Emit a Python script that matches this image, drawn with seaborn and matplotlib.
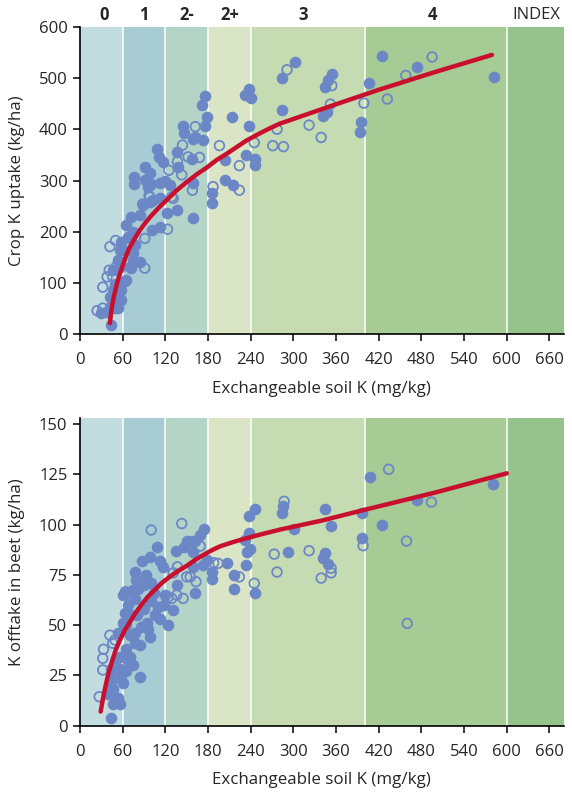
import numpy as np
import pandas as pd
import matplotlib
matplotlib.use("Agg")
import matplotlib.pyplot as plt
import seaborn as sns

# soil K index bands (mg/kg)
band_edges = [0, 60, 120, 180, 240, 400, 600, 680]
band_colors = ["#c3dce0", "#a8ccd3", "#b4d4c7", "#d9e5c5", "#c5dbb1", "#a6cb94", "#96c28b"]
index_labels = ["0", "1", "2-", "2+", "3", "4"]
index_pos = [34, 89, 150, 211, 314, 496]

# crop K uptake (top panel)
top_filled_x = [43, 30, 37, 49, 54, 42, 42, 51, 58, 49, 47, 58, 49, 63, 65, 46, 56, 54, 70, 75,
                84, 72, 56, 58, 68, 75, 64, 72, 84, 89, 98, 112, 101, 136, 159, 185, 77, 61, 70, 75,
                122, 112, 103, 76, 76, 91, 98, 91, 96, 112, 126, 159, 108, 111, 117, 136, 157, 138, 145, 146,
                159, 162, 175, 171, 178, 175, 173, 185, 204, 204, 215, 213, 234, 246, 246, 238, 240, 232, 238, 284,
                284, 302, 354, 349, 345, 342, 347, 395, 394, 406, 425, 474, 582, 100, 120]
top_filled_y = [18, 41, 44, 51, 51, 54, 73, 70, 67, 64, 86, 86, 99, 103, 106, 125, 132, 145, 132, 145,
                142, 129, 164, 181, 190, 200, 213, 229, 233, 252, 259, 210, 203, 242, 226, 256, 174, 164, 187, 158,
                236, 265, 262, 306, 293, 327, 314, 301, 288, 295, 291, 295, 361, 346, 337, 356, 341, 327, 406, 393,
                380, 385, 465, 447, 423, 407, 379, 276, 340, 301, 291, 424, 350, 341, 330, 478, 460, 467, 406, 437,
                499, 532, 507, 496, 482, 426, 434, 414, 395, 491, 543, 522, 502, 293, 300]
top_open_x = [24, 32, 32, 38, 46, 41, 51, 42, 50, 91, 91, 123, 98, 131, 88, 97, 129, 125, 143, 137,
              144, 152, 168, 162, 158, 187, 196, 224, 224, 245, 271, 286, 277, 291, 354, 352, 322, 339, 399, 432,
              458, 495]
top_open_y = [46, 51, 92, 112, 112, 125, 132, 171, 183, 187, 129, 205, 268, 265, 254, 270, 268, 320, 311, 337,
              369, 346, 345, 405, 281, 288, 368, 329, 281, 374, 368, 366, 400, 516, 485, 449, 408, 384, 451, 459,
              505, 541]
top_curve_x = [42, 43.5, 45, 47, 50, 53, 57, 61, 65, 70, 77, 84, 91, 98, 110, 122, 136, 150, 164, 178,
               192, 206, 220, 234, 250, 267, 281, 300, 350, 420, 500, 579]
top_curve_y = [22, 40, 55, 70, 88, 104, 122, 138, 154, 170, 187, 203, 216, 228, 246, 262, 281, 297, 312, 325,
               340, 352, 365, 378, 390, 402, 411, 420, 444, 477, 512, 545]

# K offtake in beet (bottom panel)
bot_filled_x = [43, 46, 56, 54, 39, 46, 44, 61, 46, 84, 58, 65, 56, 44, 75, 68, 51, 70, 56, 65,
                77, 98, 54, 77, 86, 65, 61, 94, 124, 112, 63, 131, 110, 68, 77, 61, 63, 75, 162, 136,
                216, 246, 77, 93, 78, 100, 108, 98, 87, 116, 112, 135, 146, 150, 157, 161, 169, 174, 159, 159,
                186, 185, 206, 216, 234, 235, 239, 232, 237, 246, 237, 173, 178, 284, 285, 293, 301, 345, 353, 396,
                396, 407, 425, 474, 581, 345, 341, 348, 70, 80, 90, 100, 105, 95, 85, 72, 82, 90, 118, 120, 104]
bot_filled_y = [4, 11, 11, 14, 16, 18, 19, 21, 23, 24, 25, 27, 28, 28, 30, 32, 33, 34, 34, 38,
                41, 44, 46, 46, 49, 50, 51, 51, 50, 53, 56, 57.5, 59, 60, 63, 65, 66, 67.5, 66, 70,
                68, 66, 76.6, 75, 72.5, 71, 89, 84, 82, 79, 82, 87, 89, 92, 92, 92, 95, 97.6, 86.5, 79,
                76.6, 73, 81, 75, 80, 86.5, 88, 92.3, 104.5, 107.6, 95.7, 80, 82.4, 105.6, 109, 86.5, 97.6, 108, 99.3, 105.6,
                93.5, 123.6, 99.8, 112.2, 120.2, 85.7, 83.2, 80.4, 45, 55, 58, 62, 55, 48, 40, 55, 68, 70, 60, 65, 66]
bot_open_x = [27, 32, 32, 33, 42, 46, 49, 56, 67, 64, 100, 143, 169, 137, 155, 163, 188, 194, 224, 245,
              273, 277, 287, 131, 124, 136, 129, 145, 150, 322, 398, 459, 353, 353, 339, 434, 494, 460]
bot_open_y = [14.4, 27.7, 33.5, 38, 45, 41, 42.6, 46, 65.5, 66.6, 97.3, 100.5, 89.3, 79, 74, 71.6, 81, 80.7, 74, 70.8,
              85.3, 76.4, 111.6, 76, 64, 65, 63.3, 63.3, 74, 87, 89.5, 91.8, 78.3, 76, 73.4, 127.5, 111.2, 50.9]
bot_curve_x = [29, 32, 36, 40, 45, 50, 56, 63, 70, 78, 86, 95, 105, 115, 126, 138, 150, 160, 173, 185,
               197, 215, 234, 255, 281, 340, 396, 500, 600]
bot_curve_y = [7, 13, 20, 26, 32, 37.5, 42.5, 47.5, 51.5, 56, 60, 64, 67.5, 71, 74, 77, 79.5, 82, 84.8, 87.2,
               89.2, 91.3, 93.2, 95.2, 97.5, 102, 107, 116, 125.5]

point_color = "#6c87c6"
line_color = "#c8102e"

sns.set_style("ticks")
plt.rcParams["font.family"] = ["Open Sans", "DejaVu Sans"]
plt.rcParams["font.size"] = 12

fig = plt.figure(figsize=(5.72, 7.95), dpi=100)
ax1 = fig.add_axes([0.1399, 0.5795, 0.8456, 0.3869])
ax2 = fig.add_axes([0.1399, 0.0872, 0.8456, 0.3870])


def draw_panel(ax, fx, fy, ox, oy, cx, cy, ylim, yticks, ylabel):
    for i in range(len(band_colors)):
        ax.axvspan(band_edges[i], band_edges[i + 1], color=band_colors[i], lw=0, zorder=0)
    for e in band_edges[1:-1]:
        ax.axvline(e, color="white", lw=1.1, zorder=0.5)
    filled = pd.DataFrame({"x": fx, "y": fy})
    opened = pd.DataFrame({"x": ox, "y": oy})
    sns.scatterplot(data=filled, x="x", y="y", ax=ax, color=point_color, s=70,
                    edgecolor=point_color, linewidth=0, zorder=2)
    sns.scatterplot(data=opened, x="x", y="y", ax=ax, s=48, facecolor="none",
                    edgecolor=point_color, linewidth=1.3, zorder=2)
    curve = pd.DataFrame({"x": cx, "y": cy})
    sns.lineplot(data=curve, x="x", y="y", ax=ax, color=line_color, lw=3.2,
                 sort=False, estimator=None, zorder=3)
    ax.set_xlim(0, 680)
    ax.set_ylim(*ylim)
    ax.set_xticks(range(0, 661, 60))
    ax.set_yticks(yticks)
    ax.set_xlabel("Exchangeable soil K (mg/kg)", fontsize=12.2, labelpad=9)
    ax.set_ylabel(ylabel, fontsize=12.2, labelpad=10)
    sns.despine(ax=ax)
    for s in ["left", "bottom"]:
        ax.spines[s].set_linewidth(1.2)
        ax.spines[s].set_color("black")
    ax.tick_params(direction="out", length=5, width=1.1, color="black", labelsize=12)
    ax.tick_params(axis="x", pad=8)
    ax.tick_params(axis="y", pad=4)
    ax.margins(0)


draw_panel(ax1, top_filled_x, top_filled_y, top_open_x, top_open_y, top_curve_x, top_curve_y,
           (0, 600), range(0, 601, 100), "Crop K uptake (kg/ha)")
draw_panel(ax2, bot_filled_x, bot_filled_y, bot_open_x, bot_open_y, bot_curve_x, bot_curve_y,
           (0, 153), range(0, 151, 25), "K offtake in beet (kg/ha)")

for lab, xp in zip(index_labels, index_pos):
    ax1.text(xp, 1.038, lab, transform=ax1.get_xaxis_transform(), ha="center", va="center",
             fontsize=12, fontweight="bold")
ax1.text(641, 1.038, "INDEX", transform=ax1.get_xaxis_transform(), ha="center", va="center",
         fontsize=12)

fig.savefig("out.png", dpi=100)
